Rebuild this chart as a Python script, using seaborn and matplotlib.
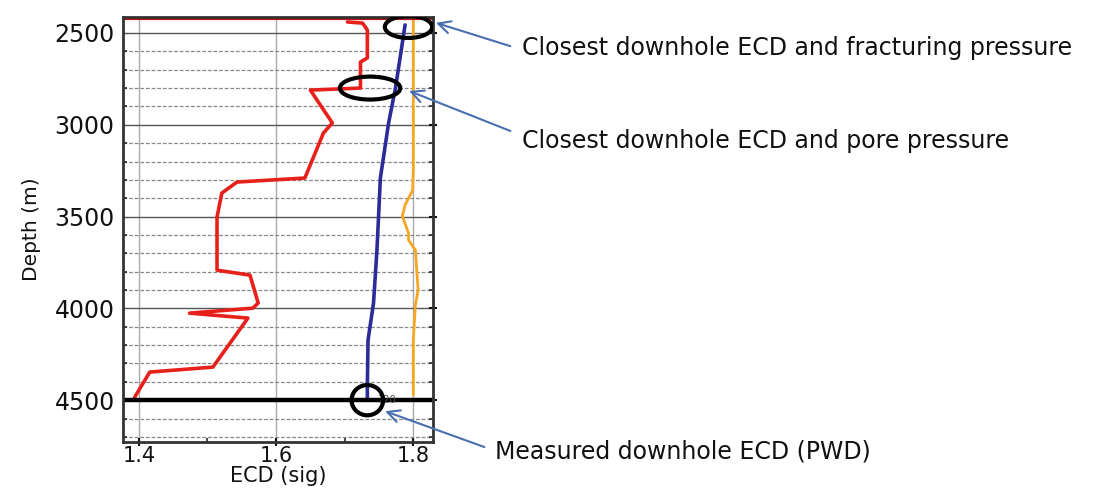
import numpy as np
import pandas as pd
import matplotlib
matplotlib.use("Agg")
import matplotlib.pyplot as plt
from matplotlib.patches import Ellipse
from matplotlib.ticker import MultipleLocator
import seaborn as sns

# ---- data ----
pore_ecd = [1.704, 1.726, 1.733, 1.733, 1.723, 1.723, 1.650, 1.682, 1.669, 1.642,
            1.543, 1.521, 1.514, 1.514, 1.562, 1.574, 1.566, 1.474, 1.559, 1.508,
            1.416, 1.394]
pore_depth = [2440, 2446, 2484, 2636, 2658, 2800, 2811, 2990, 3045, 3290,
              3312, 3372, 3503, 3792, 3819, 3971, 3999, 4026, 4053, 4320,
              4347, 4484]

ecd_vals = [1.788, 1.774, 1.764, 1.752, 1.747, 1.742, 1.734, 1.733, 1.733]
ecd_depth = [2456, 2800, 2990, 3290, 3683, 3971, 4173, 4429, 4500]

frac_vals = [1.800, 1.800, 1.799, 1.788, 1.784, 1.793, 1.793, 1.803, 1.807,
             1.803, 1.800, 1.800]
frac_depth = [2429, 3247, 3356, 3437, 3497, 3590, 3628, 3683, 3900,
              3982, 4173, 4473]

x_ticks = [1.4, 1.6, 1.8]
y_ticks = [2500, 3000, 3500, 4000, 4500]
td_depth = 4500

labels = ["Closest downhole ECD and fracturing pressure",
          "Closest downhole ECD and pore pressure",
          "Measured downhole ECD (PWD)"]

sns.set_theme(style="white")
plt.rcParams["font.family"] = ["DejaVu Sans"]

fig = plt.figure(figsize=(11.08, 4.92), dpi=100)
ax = fig.add_axes([0.111, 0.1016, 0.280, 0.8638])

df_pore = pd.DataFrame({"ECD": pore_ecd, "Depth": pore_depth})
df_ecd = pd.DataFrame({"ECD": ecd_vals, "Depth": ecd_depth})
df_frac = pd.DataFrame({"ECD": frac_vals, "Depth": frac_depth})

ax.set_xlim(1.377, 1.829)
ax.set_ylim(4728, 2413)

# grid
ax.yaxis.set_major_locator(MultipleLocator(500))
ax.yaxis.set_minor_locator(MultipleLocator(100))
ax.xaxis.set_minor_locator(MultipleLocator(0.1))
ax.set_xticks(x_ticks)
ax.set_yticks(y_ticks)
ax.grid(which="major", axis="y", color="#555555", lw=1.0, ls="-")
ax.grid(which="minor", axis="y", color="#888888", lw=0.9, ls=(0, (3, 1.5)))
ax.grid(which="major", axis="x", color="#aaaaaa", lw=1.0, ls="-")
ax.set_axisbelow(True)

sns.lineplot(data=df_frac, x="ECD", y="Depth", sort=False, estimator=None,
             color="#f5a623", lw=2.0, ax=ax)
sns.lineplot(data=df_ecd, x="ECD", y="Depth", sort=False, estimator=None,
             color="#2b2b9a", lw=2.6, ax=ax)
sns.lineplot(data=df_pore, x="ECD", y="Depth", sort=False, estimator=None,
             color="#e8201c", lw=2.6, ax=ax)

ax.axhline(2420, color="#c0101a", lw=3)
ax.axhline(td_depth, color="black", lw=3.2)
ax.text(1.747, td_depth, "720", fontsize=7, color="#555555", va="center")

# circles
for (cx, cy, w, h) in [(1.793, 2467, 0.069, 120), (1.737, 2800, 0.088, 125),
                       (1.733, 4500, 0.046, 165)]:
    ax.add_patch(Ellipse((cx, cy), w, h, fill=False, ec="black", lw=3, zorder=5))

# annotations
blue = "#4a6fb0"
arrow = dict(arrowstyle="->", color=blue, lw=1.5, mutation_scale=22)
ax.annotate("", xy=(1.829, 2440), xycoords="data",
            xytext=(513, 492 - 47), textcoords="figure pixels", arrowprops=arrow,
            annotation_clip=False)
ax.annotate("", xy=(1.790, 2810), xycoords="data",
            xytext=(513, 492 - 132), textcoords="figure pixels", arrowprops=arrow,
            annotation_clip=False)
ax.annotate("", xy=(1.755, 4555), xycoords="data",
            xytext=(487, 492 - 448), textcoords="figure pixels", arrowprops=arrow,
            annotation_clip=False)

ann_kw = dict(fontsize=17, va="center", ha="left", color="#111111")
fig.text(522 / 1108, 1 - 48 / 492, labels[0], **ann_kw)
fig.text(522 / 1108, 1 - 141 / 492, labels[1], **ann_kw)
fig.text(495 / 1108, 1 - 452 / 492, labels[2], **ann_kw)

ax.set_xlabel("ECD (sig)", fontsize=15, labelpad=0, color="#111111")
ax.set_ylabel("Depth (m)", fontsize=14.5, labelpad=10, color="#111111")
ax.tick_params(axis="both", which="major", length=6, width=1.5,
               direction="inout", colors="#111111")
ax.tick_params(axis="y", which="major", labelsize=17, pad=3)
ax.tick_params(axis="x", which="major", labelsize=15, pad=0)
ax.tick_params(axis="both", which="minor", length=3, width=1.2, direction="in",
               left=True, right=True, bottom=True, top=False)
ax.tick_params(axis="y", which="major", right=True)
ax.tick_params(axis="x", which="major", bottom=True)

for s in ax.spines.values():
    s.set_color("#333333")
    s.set_linewidth(2.0)

fig.savefig("out.png", dpi=100)
